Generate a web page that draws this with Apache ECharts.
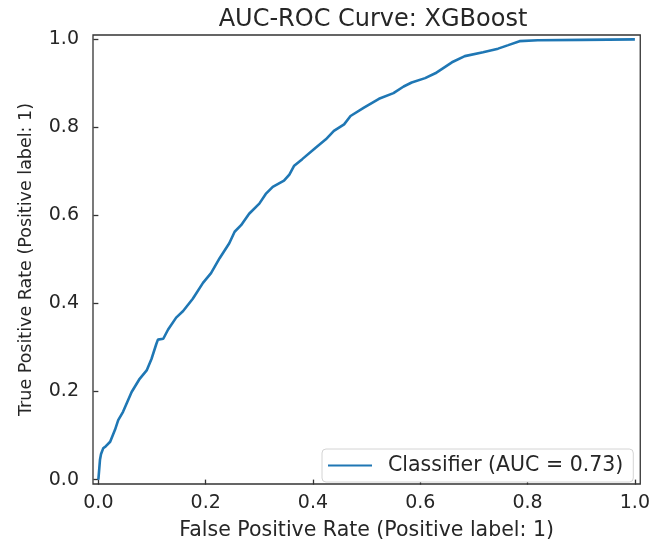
<!DOCTYPE html>
<html>
<head>
<meta charset="utf-8">
<title>AUC-ROC Curve: XGBoost</title>
<script src="https://cdn.jsdelivr.net/npm/echarts@6/dist/echarts.min.js"></script>
<style>
  html, body { margin: 0; padding: 0; background: #ffffff; }
  #chart { width: 653px; height: 546px; }
</style>
</head>
<body>
<div id="chart"></div>
<script>
// ROC curve points for the XGBoost classifier
const fpr = [0, 0.003, 0.005, 0.009, 0.014, 0.022, 0.031, 0.037, 0.046, 0.062,
  0.077, 0.090, 0.099, 0.108, 0.111, 0.121, 0.130, 0.145, 0.158, 0.176,
  0.195, 0.210, 0.226, 0.244, 0.254, 0.266, 0.281, 0.300, 0.312, 0.325,
  0.346, 0.356, 0.365, 0.380, 0.405, 0.424, 0.439, 0.458, 0.470, 0.495,
  0.523, 0.550, 0.569, 0.584, 0.609, 0.628, 0.659, 0.683, 0.717, 0.745,
  0.764, 0.785, 0.819, 0.900, 1.0];
const tpr = [0, 0.045, 0.058, 0.071, 0.076, 0.086, 0.113, 0.135, 0.154, 0.199,
  0.229, 0.248, 0.274, 0.308, 0.318, 0.320, 0.341, 0.368, 0.383, 0.411,
  0.447, 0.469, 0.503, 0.537, 0.563, 0.578, 0.604, 0.627, 0.649, 0.665,
  0.679, 0.693, 0.713, 0.728, 0.754, 0.773, 0.792, 0.807, 0.826, 0.845,
  0.865, 0.878, 0.893, 0.902, 0.912, 0.923, 0.948, 0.962, 0.971, 0.979,
  0.987, 0.996, 0.998, 0.999, 1.0];
const tickValues = [0, 0.2, 0.4, 0.6, 0.8, 1.0];
const seriesName = 'Classifier (AUC = 0.73)';
const titleText = 'AUC-ROC Curve: XGBoost';
const xLabel = 'False Positive Rate (Positive label: 1)';
const yLabel = 'True Positive Rate (Positive label: 1)';

const FONT = '"DejaVu Sans", sans-serif';
const TEXT = '#262626';

const points = fpr.map((x, i) => [x, tpr[i]]);

function valueAxis(name, nameSize, gap, labelMargin) {
  return {
    type: 'value',
    min: -0.01,
    max: 1.01,
    name: name,
    nameLocation: 'middle',
    nameGap: gap,
    nameTextStyle: { fontFamily: FONT, fontSize: nameSize, color: TEXT },
    axisLine: { show: false },
    splitLine: { show: false },
    axisTick: {
      show: true, inside: false, length: 5,
      customValues: tickValues,
      lineStyle: { color: '#333', width: 1.3 }
    },
    axisLabel: {
      customValues: tickValues,
      margin: labelMargin,
      fontFamily: FONT, fontSize: 19, color: TEXT,
      formatter: v => v.toFixed(1)
    }
  };
}

const chart = echarts.init(document.getElementById('chart'), null, { renderer: 'canvas' });
chart.setOption({
  animation: false,
  backgroundColor: '#ffffff',
  title: {
    text: titleText,
    left: 368, top: 3, textAlign: 'center',
    textStyle: { fontFamily: FONT, fontSize: 24, fontWeight: 'normal', color: TEXT }
  },
  grid: {
    left: 93, right: 10, top: 35, bottom: 58,
    show: true, borderColor: '#333', borderWidth: 1.3, backgroundColor: '#ffffff'
  },
  xAxis: valueAxis(xLabel, 20.5, 36, 10),
  yAxis: valueAxis(yLabel, 17.5, 58, 14),
  legend: {
    left: 322, top: 449,
    padding: [6, 10, 6, 6],
    backgroundColor: '#ffffff',
    borderColor: '#d4d4d4', borderWidth: 1, borderRadius: 4,
    itemWidth: 44, itemHeight: 14,
    textStyle: { fontFamily: FONT, fontSize: 20.5, color: TEXT, padding: [0, 0, 0, 11] },
    data: [{ name: seriesName, icon: 'path://M0,0 L44,0 L44,2 L0,2 Z' }]
  },
  series: [{
    name: seriesName,
    type: 'line',
    data: points,
    symbol: 'none',
    smooth: false,
    lineStyle: { color: '#1f77b4', width: 2.6 },
    itemStyle: { color: '#1f77b4' }
  }]
});
</script>
</body>
</html>
